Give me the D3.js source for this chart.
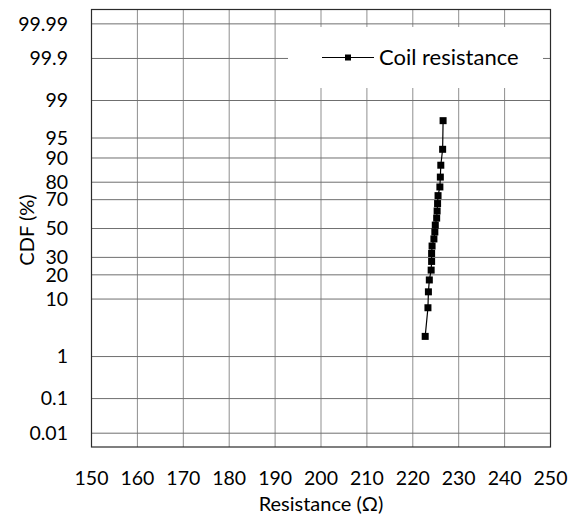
<!DOCTYPE html>
<html>
<head>
<meta charset="utf-8">
<script src="https://cdn.jsdelivr.net/npm/d3@7"></script>
<style>
  html, body { margin: 0; padding: 0; background: #fff; }
  svg { display: block; font-family: Lato, "Open Sans", sans-serif; }
</style>
</head>
<body>
<svg id="chart" width="579" height="519"></svg>
<script>
// Coil resistance measurements (ohms), sorted ascending
const resistance = [222.7, 223.3, 223.4, 223.6, 224.0, 224.1, 224.1, 224.2, 224.6, 224.8,
                    224.9, 225.2, 225.3, 225.4, 225.5, 225.9, 226.0, 226.1, 226.5, 226.6];
// Plotting positions, cumulative percent
const cdfPercent = [2.5, 7.5, 12.5, 17.5, 22.5, 27.5, 32.5, 37.5, 42.5, 47.5,
                    52.5, 57.5, 62.5, 67.5, 72.5, 77.5, 82.5, 87.5, 92.5, 97.5];
const xTicks = [150, 160, 170, 180, 190, 200, 210, 220, 230, 240, 250];
const yTicks = [0.01, 0.1, 1, 10, 20, 30, 50, 70, 80, 90, 95, 99, 99.9, 99.99];
const yTickLabels = ["0.01", "0.1", "1", "10", "20", "30", "50", "70", "80", "90", "95", "99", "99.9", "99.99"];
const seriesName = "Coil resistance";

// Inverse of the standard normal CDF (Acklam's rational approximation)
function probit(p) {
  const a = [-3.969683028665376e+01, 2.209460984245205e+02, -2.759285104469687e+02,
             1.383577518672690e+02, -3.066479806614716e+01, 2.506628277459239e+00];
  const b = [-5.447609879822406e+01, 1.615858368580409e+02, -1.556989798598866e+02,
             6.680131188771972e+01, -1.328068155288572e+01];
  const c = [-7.784894002430293e-03, -3.223964580411365e-01, -2.400758277161838e+00,
             -2.549732539343734e+00, 4.374664141464968e+00, 2.938163982698783e+00];
  const d = [7.784695709041462e-03, 3.224671290700398e-01, 2.445134137142996e+00,
             3.754408661907416e+00];
  const pl = 0.02425, ph = 1 - pl;
  let q, r;
  if (p < pl) {
    q = Math.sqrt(-2 * Math.log(p));
    return (((((c[0]*q+c[1])*q+c[2])*q+c[3])*q+c[4])*q+c[5]) /
           ((((d[0]*q+d[1])*q+d[2])*q+d[3])*q+1);
  }
  if (p <= ph) {
    q = p - 0.5; r = q * q;
    return (((((a[0]*r+a[1])*r+a[2])*r+a[3])*r+a[4])*r+a[5])*q /
           (((((b[0]*r+b[1])*r+b[2])*r+b[3])*r+b[4])*r+1);
  }
  q = Math.sqrt(-2 * Math.log(1 - p));
  return -(((((c[0]*q+c[1])*q+c[2])*q+c[3])*q+c[4])*q+c[5]) /
          ((((d[0]*q+d[1])*q+d[2])*q+d[3])*q+1);
}

const svg = d3.select("#chart");
const plot = { left: 91.5, right: 550.5, top: 9.5, bottom: 447 };

const x = d3.scaleLinear().domain([150, 250]).range([plot.left, plot.right]);
const zScale = d3.scaleLinear().domain([-3.97, 3.98]).range([plot.bottom, plot.top]);
const y = pct => zScale(probit(pct / 100));

const labelSize = 19.5;

// Vertical grid lines
svg.append("g").selectAll("line").data(xTicks).join("line")
  .attr("x1", d => x(d)).attr("x2", d => x(d))
  .attr("y1", plot.top).attr("y2", plot.bottom)
  .attr("stroke", "#8f8f8f").attr("stroke-width", 1);

// Horizontal grid lines on the probability scale
svg.append("g").selectAll("line").data(yTicks).join("line")
  .attr("x1", plot.left).attr("x2", plot.right)
  .attr("y1", d => y(d)).attr("y2", d => y(d))
  .attr("stroke", "#6f6f6f").attr("stroke-width", 1);

// Legend panel (opaque, hides the grid beneath it)
const legend = svg.append("g");
legend.append("rect")
  .attr("x", 288).attr("y", 27).attr("width", 255).attr("height", 61)
  .attr("fill", "#fff");
legend.append("line")
  .attr("x1", 322).attr("x2", 374).attr("y1", 57.5).attr("y2", 57.5)
  .attr("stroke", "#000").attr("stroke-width", 1.2);
legend.append("rect")
  .attr("x", 345).attr("y", 54.5).attr("width", 6).attr("height", 6)
  .attr("fill", "#000");
legend.append("text")
  .attr("x", 379).attr("y", 57.5).attr("dy", "0.35em")
  .attr("font-size", 22).attr("fill", "#000")
  .text(seriesName);

// Plot frame
svg.append("rect")
  .attr("x", plot.left).attr("y", plot.top)
  .attr("width", plot.right - plot.left).attr("height", plot.bottom - plot.top)
  .attr("fill", "none").attr("stroke", "#2b2b2b").attr("stroke-width", 1.2);

// Data series
const pts = resistance.map((r, i) => [r, cdfPercent[i]]);
svg.append("path")
  .datum(pts)
  .attr("fill", "none").attr("stroke", "#000").attr("stroke-width", 1.2)
  .attr("d", d3.line().x(d => x(d[0])).y(d => y(d[1])));
svg.append("g").selectAll("rect").data(pts).join("rect")
  .attr("x", d => x(d[0]) - 3.5).attr("y", d => y(d[1]) - 3.5)
  .attr("width", 7).attr("height", 7).attr("fill", "#000");

// Tick labels
svg.append("g").selectAll("text").data(xTicks).join("text")
  .attr("x", d => x(d)).attr("y", 478).attr("dy", "0.35em")
  .attr("text-anchor", "middle").attr("font-size", labelSize).attr("fill", "#000")
  .text(d => d);

svg.append("g").selectAll("text").data(yTicks).join("text")
  .attr("x", 68).attr("y", d => y(d)).attr("dy", "0.35em")
  .attr("text-anchor", "end").attr("font-size", labelSize).attr("fill", "#000")
  .text((d, i) => yTickLabels[i]);

// Axis titles
svg.append("text")
  .attr("x", 321).attr("y", 504).attr("dy", "0.35em")
  .attr("text-anchor", "middle").attr("font-size", 20).attr("fill", "#000")
  .text("Resistance (Ω)");

svg.append("text")
  .attr("transform", "translate(27,230) rotate(-90)")
  .attr("dy", "0.35em")
  .attr("text-anchor", "middle").attr("font-size", 20).attr("fill", "#000")
  .text("CDF (%)");
</script>
</body>
</html>
